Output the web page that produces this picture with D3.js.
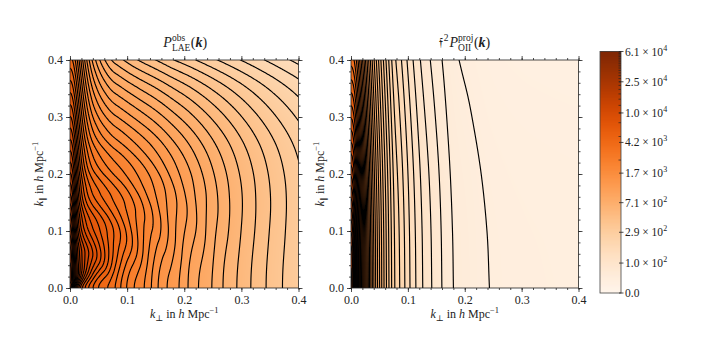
<!DOCTYPE html>
<html lang="en">
<head>
<meta charset="UTF-8">
<title>LAE power spectrum contours</title>
<script src="https://d3js.org/d3.v7.min.js"></script>
<style>
  body { margin: 0; background: #fff; }
  text { font-family: "Liberation Serif", "DejaVu Serif", serif; fill: #222; }
</style>
</head>
<body>
<svg id="chart" width="706" height="345"></svg>
<script>
// ---- values ----
// LAE term along mu = 0 (h^-3 Mpc^3), BAO wiggles included
const laeK = [0.005, 0.01, 0.015, 0.02, 0.025, 0.03, 0.04, 0.05, 0.06, 0.07, 0.08, 0.09,
              0.10, 0.11, 0.12, 0.13, 0.14, 0.15, 0.16, 0.17, 0.18, 0.19, 0.20, 0.21,
              0.22, 0.23, 0.24, 0.25, 0.26, 0.27, 0.28, 0.29, 0.30, 0.32, 0.34, 0.36,
              0.38, 0.40, 0.44, 0.48, 0.52, 0.56, 0.60];
const laeP = [2700, 4000, 4700, 4950, 4950, 4850, 4480, 4070, 3830, 3640, 3260, 2820,
              2470, 2220, 2060, 1900, 1700, 1500, 1350, 1245, 1175, 1090, 998, 905,
              835, 783, 738, 689, 637, 591, 554, 522, 490, 432, 384, 342,
              307, 276, 226, 187, 157, 133, 113];
// line-of-sight damping of the LAE term
const laeDampKpar = [0, 0.05, 0.10, 0.15, 0.20, 0.25, 0.30, 0.35, 0.40, 0.45];
const laeDamp     = [1, 1.0, 0.997, 0.986, 0.957, 0.90, 0.80, 0.67, 0.50, 0.34];
const rsdBeta = 0.8;
// projected OII interloper term along k_par = 0
const oiiK = [0, 0.0025, 0.005, 0.0075, 0.01, 0.015, 0.02, 0.03, 0.04, 0.05, 0.06, 0.077,
              0.086, 0.095, 0.104, 0.114, 0.126, 0.142, 0.16, 0.18, 0.21, 0.243, 0.27,
              0.30, 0.35, 0.40, 0.50, 0.60];
const oiiP = [42000, 38000, 28000, 19000, 13000, 6800, 4000, 1800, 1000, 650, 450, 266,
              227, 194, 165, 140, 117, 96, 77, 60, 51, 44, 41.5,
              40, 38.8, 38, 36.5, 35.5];
const oiiDampKpar = [0, 0.1, 0.2, 0.3, 0.4, 0.45];
const oiiDamp     = [1, 0.985, 0.945, 0.875, 0.79, 0.74];
const oiiKparMix = 0.045;
// colour bar
const cbarTicks = [0, 1.0e2, 2.9e2, 7.1e2, 1.7e3, 4.2e3, 1.0e4, 2.5e4, 6.1e4];
const cbarMinor = d3.range(2500, 61000, 2500);
const vmax = 6.1e4, linWidth = 100, nLevels = 50;
// axes
const axisTicks = [0, 0.1, 0.2, 0.3, 0.4];
const axisMinor = d3.range(0, 21).map(i => i * 0.02);

// monotone cubic interpolation (Fritsch-Carlson)
function monotone(xs, ys) {
  const n = xs.length, d = [], m = new Array(n);
  for (let i = 0; i < n - 1; i++) d.push((ys[i+1] - ys[i]) / (xs[i+1] - xs[i]));
  m[0] = d[0]; m[n-1] = d[n-2];
  for (let i = 1; i < n - 1; i++) m[i] = d[i-1] * d[i] <= 0 ? 0 : (d[i-1] + d[i]) / 2;
  for (let i = 0; i < n - 1; i++) {
    if (d[i] === 0) { m[i] = m[i+1] = 0; continue; }
    const a = m[i] / d[i], b = m[i+1] / d[i], s = a*a + b*b;
    if (s > 9) { const t = 3 / Math.sqrt(s); m[i] = t*a*d[i]; m[i+1] = t*b*d[i]; }
  }
  return x => {
    if (x <= xs[0]) return ys[0];
    if (x >= xs[n-1]) return ys[n-1] + m[n-1] * (x - xs[n-1]);
    const i = d3.bisectRight(xs, x) - 1;
    const h = xs[i+1] - xs[i], t = (x - xs[i]) / h, t2 = t*t, t3 = t2*t;
    return (2*t3 - 3*t2 + 1) * ys[i] + (t3 - 2*t2 + t) * h * m[i]
         + (-2*t3 + 3*t2) * ys[i+1] + (t3 - t2) * h * m[i+1];
  };
}

const laeLogP = monotone(laeK, laeP.map(Math.log));
const laeD = monotone(laeDampKpar, laeDamp);
const oiiLogP = monotone(oiiK, oiiP.map(Math.log));
const oiiD = monotone(oiiDampKpar, oiiDamp);

function interloper(kp, kl) {
  return Math.exp(oiiLogP(Math.hypot(kp, oiiKparMix * kl))) * oiiD(kl);
}
function laeObs(kp, kl) {
  const k = Math.hypot(kp, kl);
  const mu2 = k > 0 ? kl * kl / (k * k) : 1;
  return Math.exp(laeLogP(k)) * (1 + rsdBeta * mu2) ** 2 * laeD(kl) + interloper(kp, kl);
}

const asinhMax = Math.asinh(vmax / linWidth);
const norm = v => Math.max(0, Math.min(1, Math.asinh(v / linWidth) / asinhMax));
const levels = d3.range(1, nLevels).map(i => linWidth * Math.sinh(i * asinhMax / nLevels));

const svg = d3.select("#chart");
const plotY = [60, 288];
const panels = [
  { x: [70, 298.5], field: laeObs, id: "lae" },
  { x: [351, 578.5], field: interloper, id: "oii" }
];

const dk = 0.002, pad = 3, nGrid = Math.round(0.4 / dk) + 1 + 2 * pad;

panels.forEach(p => {
  const xs = d3.scaleLinear().domain([0, 0.4]).range(p.x);
  const ys = d3.scaleLinear().domain([0, 0.4]).range([plotY[1], plotY[0]]);
  const w = p.x[1] - p.x[0], h = plotY[1] - plotY[0];

  // colour image
  const cw = Math.round(w), ch = Math.round(h);
  const canvas = document.createElement("canvas");
  canvas.width = cw; canvas.height = ch;
  const ctx = canvas.getContext("2d");
  const img = ctx.createImageData(cw, ch);
  for (let j = 0; j < ch; j++) {
    const kl = 0.4 * (1 - (j + 0.5) / ch);
    for (let i = 0; i < cw; i++) {
      const kp = 0.4 * (i + 0.5) / cw;
      const c = d3.rgb(d3.interpolateOranges(norm(p.field(kp, kl))));
      const o = 4 * (j * cw + i);
      img.data[o] = c.r; img.data[o+1] = c.g; img.data[o+2] = c.b; img.data[o+3] = 255;
    }
  }
  ctx.putImageData(img, 0, 0);
  svg.append("image").attr("x", p.x[0]).attr("y", plotY[0])
    .attr("width", w).attr("height", h)
    .attr("preserveAspectRatio", "none")
    .attr("href", canvas.toDataURL());

  // contours
  const values = new Float64Array(nGrid * nGrid);
  for (let j = 0; j < nGrid; j++)
    for (let i = 0; i < nGrid; i++)
      values[j * nGrid + i] = p.field(Math.abs((i - pad) * dk), Math.abs((j - pad) * dk));
  const contours = d3.contours().size([nGrid, nGrid]).thresholds(levels)(values);
  const proj = d3.geoTransform({
    point(x, y) { this.stream.point(xs((x - 0.5 - pad) * dk), ys((y - 0.5 - pad) * dk)); }
  });
  svg.append("clipPath").attr("id", "clip-" + p.id)
    .append("rect").attr("x", p.x[0]).attr("y", plotY[0]).attr("width", w).attr("height", h);
  svg.append("g").attr("clip-path", `url(#clip-${p.id})`)
    .selectAll("path").data(contours).join("path")
    .attr("d", d3.geoPath(proj))
    .attr("fill", "none").attr("stroke", "#000").attr("stroke-width", 1.15);

  // axes: ticks on all four sides, labels left and bottom
  const fmt = d3.format(".1f");
  const groups = [
    [d3.axisBottom, xs, `translate(0,${plotY[1]})`, true],
    [d3.axisTop, xs, `translate(0,${plotY[0]})`, false],
    [d3.axisLeft, ys, `translate(${p.x[0]},0)`, true],
    [d3.axisRight, ys, `translate(${p.x[1]},0)`, false]
  ];
  groups.forEach(([axis, scale, tr, labelled]) => {
    const gMinor = svg.append("g").attr("transform", tr)
      .call(axis(scale).tickValues(axisMinor).tickSize(2).tickSizeOuter(0).tickFormat(""));
    const gMajor = svg.append("g").attr("transform", tr)
      .call(axis(scale).tickValues(axisTicks).tickSize(4).tickSizeOuter(0)
        .tickPadding(3).tickFormat(labelled ? fmt : ""));
    [gMinor, gMajor].forEach(g => {
      g.select(".domain").remove();
      g.selectAll("line").attr("stroke", "#222").attr("stroke-width", 0.8);
      g.selectAll("text").attr("font-size", 12).attr("font-family", "Liberation Serif").attr("fill", "#222");
    });
  });
  svg.append("rect").attr("x", p.x[0]).attr("y", plotY[0]).attr("width", w).attr("height", h)
    .attr("fill", "none").attr("stroke", "#222").attr("stroke-width", 0.8);

  // axis titles
  const cx = (p.x[0] + p.x[1]) / 2, cy = (plotY[0] + plotY[1]) / 2;
  const xl = svg.append("text").attr("x", cx).attr("y", 318).attr("text-anchor", "middle").attr("font-size", 12);
  xl.append("tspan").attr("font-style", "italic").text("k");
  xl.append("tspan").attr("font-size", 8.5).attr("dy", 2.5).text("⊥");
  xl.append("tspan").attr("dy", -2.5).text(" in ");
  xl.append("tspan").attr("font-style", "italic").text("h");
  xl.append("tspan").text(" Mpc");
  xl.append("tspan").attr("font-size", 8.5).attr("dy", -5).text("−1");
  const yl = svg.append("text").attr("transform", `translate(${p.x[0] - 27},${cy}) rotate(-90)`)
    .attr("text-anchor", "middle").attr("font-size", 12);
  yl.append("tspan").attr("font-style", "italic").text("k");
  yl.append("tspan").attr("font-size", 8.5).attr("dy", 2.5).text("∥");
  yl.append("tspan").attr("dy", -2.5).text(" in ");
  yl.append("tspan").attr("font-style", "italic").text("h");
  yl.append("tspan").text(" Mpc");
  yl.append("tspan").attr("font-size", 8.5).attr("dy", -5).text("−1");
  p.cx = cx;
});

// panel titles with stacked super/subscripts
function title(cx, prefix, sup, sub) {
  const t = svg.append("text").attr("x", cx).attr("y", 47).attr("text-anchor", "middle").attr("font-size", 14);
  let back = 0;
  if (prefix) {
    t.append("tspan").attr("font-family", "DejaVu Serif").attr("font-size", 13).text(prefix);
    t.append("tspan").attr("font-size", 9.5).attr("dx", 0.5).attr("dy", -6).text("2");
    back = 6;
  }
  t.append("tspan").attr("font-style", "italic").attr("dx", 1).attr("dy", back).text("P");
  const s1 = t.append("tspan").attr("font-size", 9.5).attr("dy", -6).text(sup);
  const w1 = s1.node().getComputedTextLength();
  const s2 = t.append("tspan").attr("font-size", 9.5).attr("dx", -w1).attr("dy", 10).text(sub);
  const w2 = s2.node().getComputedTextLength();
  t.append("tspan").attr("dy", -4).attr("dx", Math.max(0, w1 - w2) + 0.5).text("(");
  t.append("tspan").attr("font-weight", "bold").attr("font-style", "italic").text("k");
  t.append("tspan").text(")");
}
title(panels[0].cx, null, "obs", "LAE");
title(panels[1].cx, "𝔣", "proj", "OII");

// colour bar
const cb = { x: 600, w: 21, y0: 51.5, y1: 293 };
const cbScale = d3.scaleLinear().domain([0, asinhMax]).range([cb.y1, cb.y0]);
const cbY = v => cbScale(Math.asinh(v / linWidth));
svg.append("g").selectAll("rect").data(d3.range(Math.ceil(cb.y1 - cb.y0))).join("rect")
  .attr("x", cb.x).attr("width", cb.w)
  .attr("y", d => cb.y1 - d - 1).attr("height", 1.2)
  .attr("fill", d => d3.interpolateOranges((d + 0.5) / (cb.y1 - cb.y0)));
svg.append("rect").attr("x", cb.x).attr("y", cb.y0).attr("width", cb.w).attr("height", cb.y1 - cb.y0)
  .attr("fill", "none").attr("stroke", "#444").attr("stroke-width", 0.8);
svg.append("g").selectAll("line").data(cbarMinor).join("line")
  .attr("x1", cb.x + cb.w - 2.5).attr("x2", cb.x + cb.w)
  .attr("y1", cbY).attr("y2", cbY).attr("stroke", "#222").attr("stroke-width", 0.7);
svg.append("g").selectAll("line").data(cbarTicks).join("line")
  .attr("x1", cb.x + cb.w - 2).attr("x2", cb.x + cb.w + 2.5)
  .attr("y1", cbY).attr("y2", cbY).attr("stroke", "#222").attr("stroke-width", 0.8);
const cbLab = svg.append("g").selectAll("text").data(cbarTicks).join("text")
  .attr("x", cb.x + cb.w + 4).attr("y", d => cbY(d) + 4).attr("font-size", 11.5);
cbLab.each(function(d) {
  const t = d3.select(this);
  if (d === 0) { t.text("0.0"); return; }
  const e = Math.floor(Math.log10(d));
  t.append("tspan").text(`${(d / 10 ** e).toFixed(1)} × 10`);
  t.append("tspan").attr("font-size", 8).attr("dy", -5).text(e);
});
</script>
</body>
</html>
